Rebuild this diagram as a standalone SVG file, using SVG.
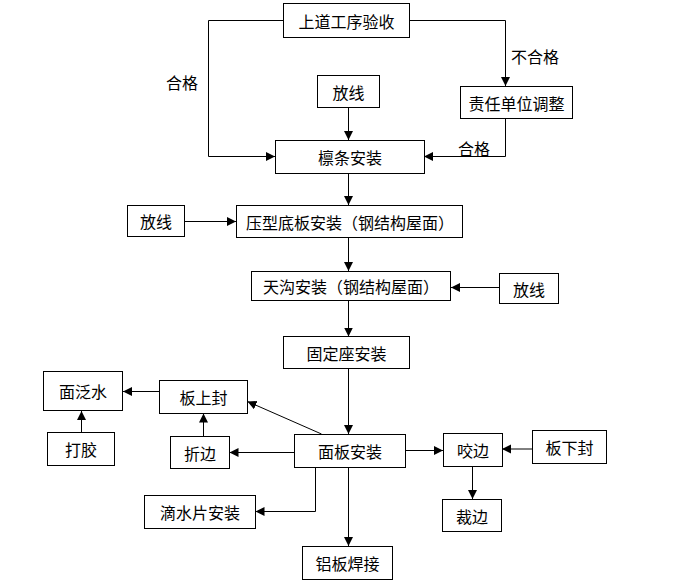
<svg xmlns="http://www.w3.org/2000/svg" width="690" height="588" viewBox="0 0 690 588">
<defs>
<style>
.box{fill:#fff;stroke:#000;stroke-width:1}
.t{font-family:"Noto Sans CJK SC","Liberation Sans",sans-serif;font-size:16px;fill:#000;text-anchor:middle;dominant-baseline:central}
.c{fill:none;stroke:#000;stroke-width:1}
</style>
<marker id="a" markerUnits="userSpaceOnUse" markerWidth="10" markerHeight="10" refX="9" refY="4.5" orient="auto">
<path d="M0,0 L9,4.5 L0,9 z" fill="#000"/>
</marker>
</defs>
<rect width="690" height="588" fill="#fff"/>
<g id="connectors">
<polyline class="c" points="283,20.5 208.5,20.5 208.5,156.5 275,156.5" marker-end="url(#a)"/>
<polyline class="c" points="409,20.5 505.5,20.5 505.5,86" marker-end="url(#a)"/>
<polyline class="c" points="505.5,118 505.5,156.5 424,156.5" marker-end="url(#a)"/>
<line class="c" x1="348.5" y1="107" x2="348.5" y2="140" marker-end="url(#a)"/>
<line class="c" x1="348.5" y1="173" x2="348.5" y2="205" marker-end="url(#a)"/>
<line class="c" x1="184" y1="221.5" x2="236" y2="221.5" marker-end="url(#a)"/>
<line class="c" x1="348.5" y1="238" x2="348.5" y2="271" marker-end="url(#a)"/>
<line class="c" x1="499" y1="287.5" x2="451" y2="287.5" marker-end="url(#a)"/>
<line class="c" x1="348.5" y1="300" x2="348.5" y2="336.5" marker-end="url(#a)"/>
<line class="c" x1="348.5" y1="368" x2="348.5" y2="434" marker-end="url(#a)"/>
<line class="c" x1="405.5" y1="450.5" x2="443" y2="450.5" marker-end="url(#a)"/>
<line class="c" x1="532" y1="449" x2="502" y2="449" marker-end="url(#a)"/>
<line class="c" x1="472.5" y1="466" x2="472.5" y2="499" marker-end="url(#a)"/>
<line class="c" x1="348.5" y1="467" x2="348.5" y2="546" marker-end="url(#a)"/>
<polyline class="c" points="315.5,467 315.5,511.5 255.5,511.5" marker-end="url(#a)"/>
<line class="c" x1="294" y1="452.5" x2="229.5" y2="452.5" marker-end="url(#a)"/>
<line class="c" x1="321.5" y1="434" x2="247.5" y2="401.5" marker-end="url(#a)"/>
<line class="c" x1="203.5" y1="436.5" x2="203.5" y2="413.5" marker-end="url(#a)"/>
<line class="c" x1="159" y1="391.5" x2="123" y2="391.5" marker-end="url(#a)"/>
<line class="c" x1="81.5" y1="432" x2="81.5" y2="411" marker-end="url(#a)"/>
<text class="t" x="535" y="56">不合格</text>
<text class="t" x="182" y="82">合格</text>
<text class="t" x="474" y="148">合格</text>
</g>
<g id="n1"><rect class="box" x="283.5" y="3.5" width="126" height="34"/><text class="t" x="346.5" y="20.5">上道工序验收</text></g>
<g id="n2"><rect class="box" x="317.5" y="75.5" width="62" height="32"/><text class="t" x="348.5" y="91.5">放线</text></g>
<g id="n3"><rect class="box" x="460.5" y="86.5" width="112" height="32"/><text class="t" x="516.5" y="102.5">责任单位调整</text></g>
<g id="n4"><rect class="box" x="275.5" y="140.5" width="149" height="33"/><text class="t" x="350" y="157">檩条安装</text></g>
<g id="n5"><rect class="box" x="127.5" y="205.5" width="57" height="31"/><text class="t" x="156" y="221">放线</text></g>
<g id="n6"><rect class="box" x="236.5" y="205.5" width="226" height="32"/><text class="t" x="350" y="221.5">压型底板安装（钢结构屋面）</text></g>
<g id="n7"><rect class="box" x="251.5" y="271.5" width="199" height="29"/><text class="t" x="351" y="286">天沟安装（钢结构屋面）</text></g>
<g id="n8"><rect class="box" x="499.5" y="273.5" width="59" height="30"/><text class="t" x="529" y="288.5">放线</text></g>
<g id="n9"><rect class="box" x="283.5" y="336.5" width="126" height="32"/><text class="t" x="346.5" y="352.5">固定座安装</text></g>
<g id="n10"><rect class="box" x="43.5" y="371.5" width="79" height="39"/><text class="t" x="83" y="391">面泛水</text></g>
<g id="n11"><rect class="box" x="159.5" y="380.5" width="88" height="33"/><text class="t" x="203.5" y="397">板上封</text></g>
<g id="n12"><rect class="box" x="47.5" y="432.5" width="67" height="33"/><text class="t" x="81" y="449">打胶</text></g>
<g id="n13"><rect class="box" x="170.5" y="436.5" width="59" height="32"/><text class="t" x="200" y="452.5">折边</text></g>
<g id="n14"><rect class="box" x="294.5" y="434.5" width="111" height="33"/><text class="t" x="350" y="451">面板安装</text></g>
<g id="n15"><rect class="box" x="443.5" y="433.5" width="59" height="33"/><text class="t" x="473" y="450">咬边</text></g>
<g id="n16"><rect class="box" x="532.5" y="430.5" width="74" height="33"/><text class="t" x="569.5" y="447">板下封</text></g>
<g id="n17"><rect class="box" x="144.5" y="495.5" width="111" height="33"/><text class="t" x="200" y="512">滴水片安装</text></g>
<g id="n18"><rect class="box" x="442.5" y="499.5" width="59" height="32"/><text class="t" x="472" y="515.5">裁边</text></g>
<g id="n19"><rect class="box" x="302.5" y="546.5" width="90" height="33"/><text class="t" x="347.5" y="563">铝板焊接</text></g>
</svg>
